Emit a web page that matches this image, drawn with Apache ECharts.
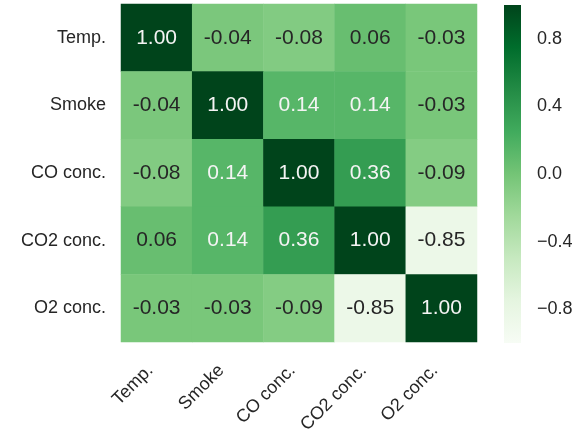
<!DOCTYPE html>
<html>
<head>
<meta charset="utf-8">
<script src="https://cdn.jsdelivr.net/npm/echarts@6/dist/echarts.min.js"></script>
<style>
  html, body { margin: 0; padding: 0; background: #fff; }
  #chart { width: 583px; height: 432px; }
</style>
</head>
<body>
<div id="chart"></div>
<script>
// Correlation matrix of the sensor variables
const variables = ["Temp.", "Smoke", "CO conc.", "CO2 conc.", "O2 conc."];
const rowTemp  = [1.00, -0.04, -0.08, 0.06, -0.03];
const rowSmoke = [-0.04, 1.00, 0.14, 0.14, -0.03];
const rowCO    = [-0.08, 0.14, 1.00, 0.36, -0.09];
const rowCO2   = [0.06, 0.14, 0.36, 1.00, -0.85];
const rowO2    = [-0.03, -0.03, -0.09, -0.85, 1.00];
const matrixRows = [rowTemp, rowSmoke, rowCO, rowCO2, rowO2];

// Colour bar range and ticks
const scaleMin = -1;
const scaleMax = 1;
const colorbarTicks = [-0.8, -0.4, 0.0, 0.4, 0.8];

// Sequential green palette (light -> dark)
const greens = ["#f7fcf5", "#e5f5e0", "#c7e9c0", "#a1d99b", "#74c476",
                "#41ab5d", "#238b45", "#006d2c", "#00441b"];

const FONT = "'Liberation Sans', Arial, sans-serif";
const DARK = "#262626";

const cells = [];
matrixRows.forEach((row, r) => {
  row.forEach((v, c) => {
    cells.push({
      value: [c, r, v],
      label: { color: v > 0.1 ? "#f4f4f4" : DARK }
    });
  });
});

const chart = echarts.init(document.getElementById("chart"), null, { renderer: "canvas" });

chart.setOption({
  animation: false,
  backgroundColor: "#ffffff",
  textStyle: { fontFamily: FONT },
  grid: [
    { left: 121, top: 4, width: 356, height: 338, outerBoundsMode: "none", containLabel: false },
    { left: 504, top: 5, width: 17, height: 338, outerBoundsMode: "none", containLabel: false }
  ],
  xAxis: [
    {
      type: "category", gridIndex: 0, data: variables, position: "bottom",
      axisLine: { show: false }, axisTick: { show: false }, splitLine: { show: false },
      axisLabel: {
        rotate: 45, margin: 32, fontSize: 18, color: DARK, fontFamily: FONT,
        align: "right", verticalAlign: "bottom", interval: 0
      }
    },
    {
      type: "value", gridIndex: 1, min: 0, max: 1, show: false
    }
  ],
  yAxis: [
    {
      type: "category", gridIndex: 0, data: variables, inverse: true,
      axisLine: { show: false }, axisTick: { show: false }, splitLine: { show: false },
      axisLabel: { margin: 15, fontSize: 18, color: DARK, fontFamily: FONT, interval: 0 }
    },
    {
      type: "value", gridIndex: 1, min: scaleMin, max: scaleMax, position: "right",
      splitLine: { show: false },
      axisLine: { show: false },
      axisTick: { show: true, length: 7, lineStyle: { color: DARK, width: 1 },
                  customValues: colorbarTicks },
      axisLabel: {
        show: true, margin: 16, fontSize: 18, color: DARK, fontFamily: FONT,
        customValues: colorbarTicks,
        formatter: v => (v < 0 ? "\u2212" : "") + Math.abs(v).toFixed(1)
      }
    }
  ],
  visualMap: {
    type: "continuous", show: false, min: scaleMin, max: scaleMax,
    dimension: 2, seriesIndex: 0,
    inRange: { color: greens }
  },
  series: [
    {
      type: "heatmap", xAxisIndex: 0, yAxisIndex: 0, data: cells,
      label: {
        show: true, fontSize: 21, fontFamily: FONT,
        formatter: p => p.value[2].toFixed(2)
      },
      itemStyle: { borderWidth: 0 },
      emphasis: { disabled: true }
    },
    {
      // colour bar drawn as one gradient rectangle spanning the value range
      type: "custom", xAxisIndex: 1, yAxisIndex: 1,
      data: [[scaleMin, scaleMax]],
      renderItem: (params, api) => {
        const top = api.coord([0, api.value(1)]);
        const bottom = api.coord([1, api.value(0)]);
        const stops = greens.slice().reverse().map((c, i) => ({ offset: i / (greens.length - 1), color: c }));
        return {
          type: "rect",
          shape: { x: top[0], y: top[1], width: bottom[0] - top[0], height: bottom[1] - top[1] },
          style: { fill: new echarts.graphic.LinearGradient(0, 0, 0, 1, stops) }
        };
      },
      silent: true
    }
  ]
});
</script>
</body>
</html>
